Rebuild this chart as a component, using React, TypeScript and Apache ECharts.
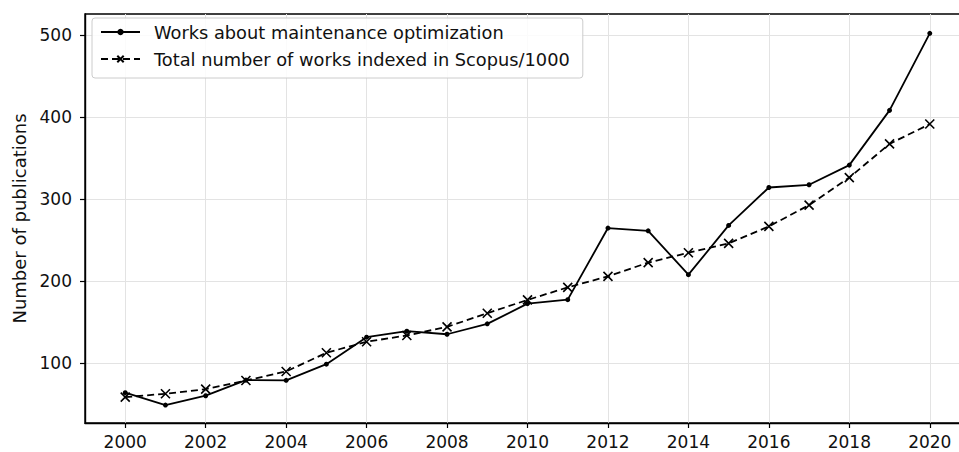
import React, { useEffect, useRef } from "react";
import * as echarts from "echarts";

const axisYears = ["1999","2000","2001","2002","2003","2004","2005","2006","2007","2008","2009","2010","2011","2012","2013","2014","2015","2016","2017","2018","2019","2020","2021"];
const years = ["2000","2001","2002","2003","2004","2005","2006","2007","2008","2009","2010","2011","2012","2013","2014","2015","2016","2017","2018","2019","2020"];
const maintenanceWorks = [63.5, 48.4, 59.8, 78.8, 78.6, 98.3, 131.2, 138.5, 134.8, 147.5, 172.2, 177, 264.4, 261, 207.5, 267.6, 313.9, 317.2, 341.2, 408, 502];
const scopusWorks = [58, 62.2, 67.8, 78.4, 89.4, 112.2, 125.6, 133.3, 143.8, 160.4, 176.7, 192, 205.5, 222.2, 234.3, 245.7, 266.4, 292.4, 326, 367.1, 391.3];
const yTicks = [100, 200, 300, 400, 500];

const seriesNames = ["Works about maintenance optimization", "Total number of works indexed in Scopus/1000"];

export default function App() {
  const ref = useRef<HTMLDivElement>(null);
  useEffect(() => {
    if (!ref.current) return;
    const chart = echarts.init(ref.current, undefined, { renderer: "svg" });
    const font = "'DejaVu Sans', sans-serif";
    const even = (_i: number, v: string) => Number(v) % 2 === 0;
    chart.setOption({
      animation: false,
      backgroundColor: "#fff",
      grid: {
        left: 85, top: 14, bottom: 29, right: 2,
        show: true, borderColor: "#000", borderWidth: 1.4, backgroundColor: "transparent",
      },
      legend: {
        orient: "vertical",
        left: 92, top: 18,
        padding: [5, 13, 10, 8],
        itemWidth: 39, itemHeight: 8, itemGap: 9,
        borderColor: "#cccccc", borderWidth: 1, borderRadius: 3,
        backgroundColor: "rgba(255,255,255,0.85)",
        textStyle: { fontFamily: font, fontSize: 17.8, color: "#111", padding: [0, 0, 0, 9] },
        data: seriesNames,
      },
      xAxis: {
        type: "category",
        data: axisYears,
        boundaryGap: false,
        axisLine: { lineStyle: { color: "#000", width: 1.4 } },
        axisTick: { show: true, inside: false, length: 5, interval: even, lineStyle: { color: "#000", width: 1.2 } },
        axisLabel: { interval: even, margin: 10, fontFamily: font, fontSize: 17, color: "#111" },
        splitLine: { show: true, interval: even, lineStyle: { color: "#e3e3e3", width: 1 } },
      },
      yAxis: {
        type: "value",
        min: 26.5,
        max: 525.6,
        interval: 100,
        name: "Number of publications",
        nameLocation: "middle",
        nameGap: 57,
        nameTextStyle: { fontFamily: font, fontSize: 18, color: "#111" },
        axisLine: { show: true, lineStyle: { color: "#000", width: 1.4 } },
        axisTick: { show: true, length: 5, customValues: yTicks, lineStyle: { color: "#000", width: 1.2 } },
        axisLabel: { customValues: yTicks, margin: 13, fontFamily: font, fontSize: 17, color: "#111" },
        splitLine: { show: true, lineStyle: { color: "#e3e3e3", width: 1 } },
      },
      series: [
        {
          name: seriesNames[0],
          type: "line",
          data: years.map((y, i) => [y, maintenanceWorks[i]]),
          symbol: "circle",
          symbolSize: 5,
          lineStyle: { color: "#000", width: 1.8 },
          itemStyle: { color: "#000" },
        },
        {
          name: seriesNames[1],
          type: "line",
          data: years.map((y, i) => [y, scopusWorks[i]]),
          symbol: "path://M0,0L10,10M10,0L0,10",
          symbolSize: 9,
          lineStyle: { color: "#000", width: 1.8, type: [7, 4] },
          itemStyle: { color: "#000", borderColor: "#000", borderWidth: 1.6 },
        },
      ],
    });
    return () => chart.dispose();
  }, []);
  return (
    <div style={{ position: "fixed", left: 0, top: 0, width: 959, height: 452, overflow: "hidden", background: "#fff" }}>
      <div ref={ref} style={{ width: 972, height: 452 }} />
    </div>
  );
}
